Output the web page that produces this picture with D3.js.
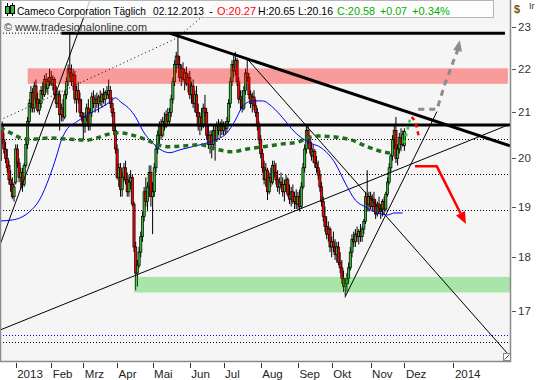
<!DOCTYPE html>
<html>
<head>
<meta charset="utf-8">
<script src="https://cdn.jsdelivr.net/npm/d3@7"></script>
<style>
body { margin: 0; background: #fff; }
svg { display: block; font-family: "Liberation Sans", Arial, sans-serif; }
</style>
</head>
<body>
<div id="chart"></div>
<script>
// daily candles [open, high, low, close], one array per month
const dec2012 = [[19.95,20.85,19.9,20.7],[20.7,20.8,20.3,20.4],[20.4,20.55,20.1,20.2],[20.2,20.35,19.9,20.0],
  [20.0,20.2,19.7,19.8],[19.85,19.95,19.45,19.55],[19.55,19.75,19.3,19.45],[19.45,19.6,19.15,19.2],[19.2,19.5,19.1,19.4]];
const jan = [[19.5,20.3,19.45,20.2],[20.2,20.3,19.8,19.9],[19.9,20.0,19.5,19.6],[19.6,19.8,19.35,19.7],[19.7,19.8,19.3,19.45],
  [19.45,19.9,19.4,19.85],[19.85,20.4,19.8,20.3],[20.3,20.9,20.2,20.8],[20.8,21.3,20.7,21.2],[21.2,21.6,21.0,21.45],
  [21.45,21.55,21.0,21.1],[21.1,21.7,21.0,21.6],[21.6,21.75,21.2,21.3],[21.3,21.45,21.0,21.05],[21.05,21.3,20.95,21.2],
  [21.2,21.6,21.1,21.5],[21.5,21.7,21.3,21.4],[21.4,21.85,21.35,21.75],[21.75,21.9,21.45,21.55],[21.55,21.8,21.4,21.7],
  [21.7,22.0,21.6,21.8]];
const feb = [[21.8,21.95,21.6,21.65],[21.65,21.85,21.5,21.75],[21.75,21.8,21.3,21.4],[21.4,21.6,21.1,21.2],[21.2,21.5,21.1,21.4],
  [21.4,21.5,20.6,20.95],[20.95,21.2,20.8,21.1],[21.1,21.3,20.8,20.9],[20.9,21.5,20.85,21.4],[21.4,21.8,21.3,21.7],
  [21.7,22.1,21.6,22.0],[22.0,22.85,21.8,21.9],[21.9,22.1,21.6,21.7],[21.7,22.0,21.5,21.85],[21.85,21.95,21.2,21.3],
  [21.3,21.6,21.0,21.5],[21.5,21.7,21.2,21.3],[21.3,21.45,20.9,21.0],[21.0,21.3,20.8,20.9]];
const mar = [[20.9,21.0,20.4,20.7],[20.7,21.0,20.55,20.9],[20.9,21.2,20.8,21.1],[21.1,21.3,20.6,20.7],[20.7,21.1,20.6,21.0],
  [21.0,21.45,20.9,21.35],[21.35,21.5,21.1,21.2],[21.2,21.4,21.0,21.3],[21.3,21.45,21.1,21.2],[21.2,21.4,21.0,21.35],
  [21.35,21.5,21.15,21.25],[21.25,21.45,21.1,21.4],[21.4,21.55,21.2,21.3],[21.3,21.5,21.15,21.45],[21.45,21.6,21.3,21.4],
  [21.4,21.75,21.3,21.5],[21.5,21.6,21.1,21.2],[21.2,21.35,20.9,21.0],[21.0,21.1,20.5,20.6],[20.6,20.7,20.1,20.2]];
const apr = [[20.2,20.3,19.55,19.6],[19.6,19.9,19.4,19.8],[19.8,19.9,19.2,19.35],[19.35,19.7,19.2,19.6],[19.6,19.9,19.5,19.8],
  [19.8,19.95,19.45,19.55],[19.55,19.7,19.2,19.3],[19.3,19.65,19.2,19.5],[19.5,19.75,19.35,19.6],[19.6,19.65,19.0,19.05],
  [19.05,19.1,18.1,18.2],[18.2,18.3,17.38,17.7],[17.7,17.95,17.45,17.85],[17.85,18.2,17.8,18.1],[18.1,18.5,18.0,18.4],
  [18.4,18.9,18.3,18.8],[18.8,19.4,18.7,19.3],[19.3,19.6,19.0,19.1],[19.1,19.5,18.9,19.4],[19.4,19.85,19.2,19.7],
  [19.7,19.85,19.0,19.2]];
const may = [[19.2,19.5,18.45,19.3],[19.3,19.9,19.2,19.8],[19.8,20.3,19.7,20.2],[20.2,20.6,20.1,20.5],[20.5,20.8,20.3,20.7],
  [20.7,20.85,20.4,20.5],[20.5,20.9,20.45,20.8],[20.8,21.0,20.6,20.7],[20.7,21.05,20.65,20.95],[20.95,21.1,20.7,20.8],
  [20.8,21.1,20.7,21.0],[21.0,21.4,20.9,21.3],[21.3,21.8,21.2,21.7],[21.7,22.2,21.6,22.1],[22.1,22.4,21.9,22.3],
  [22.3,22.85,22.0,22.1],[22.1,22.3,21.7,21.8],[21.8,22.1,21.6,22.0],[22.0,22.15,21.7,21.75],[21.75,22.0,21.5,21.9],
  [21.9,22.05,21.6,21.65],[21.65,21.9,21.45,21.8]];
const jun = [[21.8,21.95,21.3,21.4],[21.4,21.7,21.2,21.6],[21.6,21.75,21.1,21.2],[21.2,21.5,21.0,21.4],[21.4,21.6,20.9,21.0],
  [21.0,21.2,20.6,20.7],[20.7,21.0,20.5,20.9],[20.9,21.1,20.6,20.7],[20.7,21.2,20.65,21.1],[21.1,21.4,20.9,21.0],
  [21.0,21.1,20.4,20.5],[20.5,20.7,20.2,20.3],[20.3,20.6,20.1,20.5],[20.5,20.6,20.0,20.3],[20.3,20.7,20.2,20.6],
  [20.6,20.7,19.95,20.4],[20.4,20.8,20.35,20.7],[20.7,20.85,20.5,20.6],[20.6,20.8,20.45,20.75],[20.75,20.85,20.5,20.6]];
const jul = [[20.6,20.8,20.5,20.7],[20.7,20.8,20.5,20.65],[20.65,20.9,20.55,20.8],[20.8,21.3,20.75,21.2],[21.2,21.8,21.1,21.7],
  [21.7,22.2,21.6,22.1],[22.1,22.3,21.8,21.95],[21.95,22.4,21.85,22.2],[22.2,22.25,21.6,21.7],[21.7,21.8,21.2,21.3],
  [21.3,21.5,21.05,21.35],[21.35,21.5,21.0,21.1],[21.1,21.6,21.05,21.5],[21.5,22.0,21.4,21.9],[21.9,22.25,21.7,21.8],
  [21.8,21.9,21.3,21.4],[21.4,21.5,21.1,21.2],[21.2,21.45,21.0,21.35],[21.35,21.5,21.05,21.15],[21.15,21.3,20.9,21.0],
  [21.0,21.1,20.6,20.7],[20.7,20.8,20.3,20.4]];
const aug = [[20.4,20.5,20.0,20.1],[20.1,20.2,19.7,19.8],[19.8,19.95,19.45,19.55],[19.55,19.9,19.4,19.75],[19.75,19.8,19.13,19.3],
  [19.3,19.7,19.25,19.6],[19.6,19.8,19.4,19.5],[19.5,19.95,19.45,19.85],[19.85,19.95,19.6,19.7],[19.7,19.9,19.45,19.55],
  [19.55,19.75,19.3,19.4],[19.4,19.6,19.25,19.5],[19.5,19.7,19.35,19.45],[19.45,19.6,19.2,19.3],[19.3,19.55,19.1,19.45],
  [19.45,19.65,19.3,19.55],[19.55,19.6,19.2,19.25],[19.25,19.45,19.05,19.15],[19.15,19.4,19.0,19.3],[19.3,19.45,19.05,19.1],
  [19.1,19.3,18.95,19.2],[19.2,19.35,18.95,19.05]];
const sep = [[19.05,19.3,18.95,19.2],[19.2,19.35,18.9,19.0],[19.0,19.5,18.95,19.4],[19.4,19.9,19.35,19.8],[19.8,20.3,19.7,20.2],
  [20.2,20.72,20.1,20.6],[20.6,20.7,20.3,20.4],[20.4,20.5,20.1,20.2],[20.2,20.35,19.95,20.05],[20.05,20.3,19.9,20.15],
  [20.15,20.2,19.8,19.9],[19.9,20.05,19.7,19.8],[19.8,19.95,19.55,19.65],[19.65,19.75,19.3,19.4],[19.4,19.5,19.0,19.1],
  [19.1,19.2,18.7,18.8],[18.8,19.0,18.5,18.6],[18.6,18.8,18.35,18.45],[18.45,18.7,18.3,18.55],[18.55,18.6,18.1,18.2]];
const oct = [[18.2,18.4,18.0,18.3],[18.3,18.5,18.1,18.2],[18.2,18.35,17.95,18.05],[18.05,18.3,17.9,18.2],[18.2,18.3,17.85,17.9],
  [17.9,18.1,17.7,17.8],[17.8,17.95,17.5,17.6],[17.6,17.75,17.35,17.45],[17.45,17.6,17.28,17.5],[17.5,17.7,17.35,17.6],
  [17.6,17.9,17.5,17.8],[17.8,18.2,17.75,18.1],[18.1,18.45,18.0,18.35],[18.35,18.5,18.2,18.3],[18.3,18.55,18.2,18.45],
  [18.45,18.6,18.3,18.4],[18.4,18.55,18.25,18.5],[18.5,18.65,18.3,18.4],[18.4,18.6,18.3,18.55],[18.55,18.75,18.45,18.7],
  [18.7,19.3,18.65,19.2],[19.2,19.75,18.9,19.05],[19.05,19.3,18.9,19.2]];
const nov = [[19.2,19.3,18.95,19.0],[19.0,19.25,18.9,19.15],[19.15,19.3,18.9,19.0],[19.0,19.15,18.75,18.85],[18.85,19.1,18.8,19.05],
  [19.05,19.2,18.85,18.9],[18.9,19.05,18.75,18.95],[18.95,19.15,18.8,19.1],[19.1,19.2,18.85,18.95],[18.95,19.3,18.9,19.25],
  [19.25,19.6,19.2,19.5],[19.5,19.9,19.45,19.8],[19.8,20.1,19.7,20.05],[20.05,20.5,19.95,20.4],[20.4,20.75,20.2,20.6],
  [20.6,20.9,19.9,20.0],[20.0,20.3,19.85,20.2],[20.2,20.55,20.1,20.45],[20.45,20.65,20.15,20.3],[20.3,20.6,20.25,20.51]];
const dec2013 = [[20.27,20.65,20.16,20.58]];

const months = [dec2012, jan, feb, mar, apr, may, jun, jul, aug, sep, oct, nov, dec2013];
const bars = months.flat().map((d, k) => ({ i: k - dec2012.length, o: d[0], h: d[1], l: d[2], c: d[3] }));

// x axis: bar number of the first trading day of each month
const tickLabels = ["2013", "Feb", "Mrz", "Apr", "Mai", "Jun", "Jul", "Aug", "Sep", "Okt", "Nov", "Dez", "2014"];
const tickBars = [0, 21, 40, 60, 81, 103, 123, 145, 167, 187, 210, 230, 259];
const priceTicks = [17, 18, 19, 20, 21, 22, 23];

// moving averages [bar, price]
const maBlue = [[-9.3,18.71],[-2,18.73],[8,18.89],[14,19.13],[20,19.61],[24,20.03],[27,20.39],[30,20.61],[36,20.79],
  [42,20.94],[50,21.10],[56,21.24],[59,21.33],[62,21.24],[68,21.05],[72,20.83],[75,20.61],[81,20.33],[87,20.16],
  [91,20.12],[97,20.18],[109,20.29],[118,20.39],[125,20.55],[130,20.83],[134,21.12],[140,21.26],[146,21.26],
  [152,21.12],[158,20.88],[165,20.57],[173,20.35],[181,20.22],[189,19.90],[195,19.48],[201,19.13],[207,18.99],
  [214,18.87],[220,18.83],[224,18.87],[229,18.87]];
const maGreen = [[-9.3,20.66],[-3,20.55],[3,20.44],[10,20.41],[20,20.44],[32,20.41],[42,20.39],[48,20.44],[56,20.53],
  [62,20.55],[69,20.50],[78,20.39],[84,20.29],[91,20.25],[101,20.27],[109,20.29],[118,20.20],[128,20.14],[137,20.20],
  [147,20.25],[158,20.31],[167,20.35],[173,20.44],[179,20.48],[189,20.46],[199,20.39],[208,20.25],[217,20.14],[224,20.10]];

// drawn levels and trend lines [bar, price]
const dottedLevels = [20.41, 19.67, 18.92, 16.45];
const blueDottedLevel = 16.58;
const redZone = { from: 7.1, to: 291.3, lo: 21.65, hi: 22.01 };
const greenZone = { from: 70, to: 292.5, lo: 17.34, hi: 17.63 };
const topDotted = [[-9.3, 22.85], [27, 22.85]];
const thickLines = [
  [[27, 22.85], [289.5, 22.85]],
  [[-9.3, 20.72], [292.5, 20.72]],
  [[91, 22.85], [292.5, 20.27]]
];
const thinLines = [
  [[-9.3, 16.66], [292.5, 20.74]],
  [[-9.3, 18.24], [44, 23.67]],
  [[137.5, 22.21], [290.7, 16.26]],
  [[194.8, 17.25], [249.3, 21.02]]
];
const dottedDiag = [[-9.3, 20.83], [95.4, 22.73], [122, 23.67]];
const grayArrow = [[238.2,21.07],[249.3,21.07],[251,21.28],[254,21.65],[256.9,21.95],[259.3,22.21],[261.6,22.44],[262.8,22.68]];
const redArrow = [[236.3,19.83],[249.2,19.83],[266.4,18.65]];
const greenArc = [[229.8,20.33],[231.5,20.57],[233.3,20.85]];
const redArc = [[234.3,20.9],[236.5,20.8],[237.7,20.6],[238.9,20.41]];

const W = 540, H = 380, PW = 510, PH = 361;

const x = d3.scaleLinear().domain([-9.3, 292.5]).range([0, PW]);
const y = d3.scaleLog().domain([16.12, 23.67]).range([PH, 0]);

const svg = d3.select("#chart").append("svg").attr("width", W).attr("height", H);
svg.append("rect").attr("width", W).attr("height", H).attr("fill", "#fff");
svg.append("defs").append("clipPath").attr("id", "clip")
  .append("rect").attr("width", PW).attr("height", PH);
svg.append("rect").attr("width", PW).attr("height", PH).attr("fill", "#f5f5f5");

const plot = svg.append("g").attr("clip-path", "url(#clip)");
const line = d3.line().x(d => x(d[0])).y(d => y(d[1]));

// horizontal dotted levels
plot.selectAll(".lvl").data(dottedLevels).join("line")
  .attr("x1", 0).attr("x2", PW)
  .attr("y1", d => Math.round(y(d)) + 0.5).attr("y2", d => Math.round(y(d)) + 0.5)
  .attr("stroke", "#000").attr("stroke-dasharray", "1,2");
plot.append("line").attr("x1", 0).attr("x2", PW)
  .attr("y1", Math.round(y(blueDottedLevel)) + 0.5).attr("y2", Math.round(y(blueDottedLevel)) + 0.5)
  .attr("stroke", "#0000ff").attr("stroke-dasharray", "1,2");

// candles
const bw = 2.2;
plot.selectAll(".wick").data(bars).join("line")
  .attr("x1", d => x(d.i)).attr("x2", d => x(d.i))
  .attr("y1", d => y(d.h)).attr("y2", d => y(d.l))
  .attr("stroke", "#000").attr("stroke-width", 1);
plot.selectAll(".body").data(bars).join("rect")
  .attr("x", d => x(d.i) - bw / 2)
  .attr("y", d => y(Math.max(d.o, d.c)))
  .attr("width", bw)
  .attr("height", d => Math.max(1, Math.abs(y(d.o) - y(d.c))))
  .attr("fill", d => d.c >= d.o ? "#33bb33" : "#ff0000")
  .attr("stroke", "#000").attr("stroke-width", 0.7);

// zones
[[redZone, "rgba(255,0,0,0.37)"], [greenZone, "rgba(0,192,0,0.31)"]].forEach(([z, col]) => {
  plot.append("rect")
    .attr("x", x(z.from)).attr("width", x(z.to) - x(z.from))
    .attr("y", y(z.hi)).attr("height", y(z.lo) - y(z.hi))
    .attr("fill", col);
});

// trend lines
plot.append("path").datum(dottedDiag).attr("d", line)
  .attr("fill", "none").attr("stroke", "#000").attr("stroke-dasharray", "1,3");
plot.append("path").datum(topDotted).attr("d", line)
  .attr("fill", "none").attr("stroke", "#000").attr("stroke-dasharray", "1,2");
thinLines.forEach(l => plot.append("path").datum(l).attr("d", line)
  .attr("fill", "none").attr("stroke", "#000").attr("stroke-width", 1));
thickLines.forEach(l => plot.append("path").datum(l).attr("d", line)
  .attr("fill", "none").attr("stroke", "#000").attr("stroke-width", 3));

// moving averages
const curve = d3.line().x(d => x(d[0])).y(d => y(d[1])).curve(d3.curveMonotoneX);
plot.append("path").datum(maBlue).attr("d", curve)
  .attr("fill", "none").attr("stroke", "#0000ee").attr("stroke-width", 1);
plot.append("path").datum(maGreen).attr("d", curve)
  .attr("fill", "none").attr("stroke", "#1e6e1e").attr("stroke-width", 3.5).attr("stroke-dasharray", "5,4");

// forecast arrows
function arrow(pts, col, w, dash, len, half) {
  const p = pts.map(d => [x(d[0]), y(d[1])]);
  const tip = p[p.length - 1], prev = p[p.length - 2];
  const dx = tip[0] - prev[0], dy = tip[1] - prev[1], n = Math.hypot(dx, dy);
  const ux = dx / n, uy = dy / n;
  const bx = tip[0] - ux * len, by = tip[1] - uy * len;
  const shaft = p.slice(0, -1).concat([[bx, by]]);
  plot.append("path").attr("d", d3.line()(shaft))
    .attr("fill", "none").attr("stroke", col).attr("stroke-width", w)
    .attr("stroke-dasharray", dash);
  plot.append("path")
    .attr("d", d3.line()([tip, [bx - uy * half, by + ux * half], [bx + uy * half, by - ux * half]]) + "Z")
    .attr("fill", col);
}
arrow(grayArrow, "#8c8c8c", 3, "6,5", 11, 4.5);
arrow(redArrow, "#ff0000", 2.5, null, 12, 5);
plot.append("path").datum(greenArc).attr("d", curve)
  .attr("fill", "none").attr("stroke", "#33cc33").attr("stroke-width", 2.5).attr("stroke-dasharray", "3,4");
plot.append("path").datum(redArc).attr("d", line)
  .attr("fill", "none").attr("stroke", "#ff0000").attr("stroke-width", 2.5).attr("stroke-dasharray", "4,4");

// frame
svg.append("path").attr("d", `M0.5,0V${PH + 0.5}H${PW + 0.5}V0`)
  .attr("fill", "none").attr("stroke", "#8a8a8a").attr("stroke-width", 1.5);

// price axis
const yAxis = svg.append("g");
yAxis.selectAll("line").data(priceTicks).join("line")
  .attr("x1", PW + 2).attr("x2", PW + 6)
  .attr("y1", d => Math.round(y(d)) + 0.5).attr("y2", d => Math.round(y(d)) + 0.5)
  .attr("stroke", "#555");
yAxis.selectAll("text").data(priceTicks).join("text")
  .attr("x", PW + 8).attr("y", d => y(d) + 4)
  .attr("font-size", 11.5).attr("fill", "#333").text(d => d);
svg.append("text").attr("x", 514).attr("y", 13).attr("font-size", 11)
  .attr("font-weight", "bold").attr("fill", "#7a5200").text("$");

// date axis
const xAxis = svg.append("g");
xAxis.selectAll("line").data(tickBars).join("line")
  .attr("x1", d => Math.round(x(d)) + 0.5).attr("x2", d => Math.round(x(d)) + 0.5)
  .attr("y1", PH + 2).attr("y2", PH + 7).attr("stroke", "#333");
xAxis.selectAll("text").data(tickBars).join("text")
  .attr("x", d => x(d) + 1.5).attr("y", 378)
  .attr("font-size", 11.5).attr("fill", "#222").text((d, k) => tickLabels[k]);

// resize grip
svg.append("rect").attr("x", 503.5).attr("y", 353.5).attr("width", 7).attr("height", 7)
  .attr("fill", "#fff").attr("stroke", "#888");
svg.append("line").attr("x1", 504.5).attr("y1", 359.5).attr("x2", 509.5).attr("y2", 354.5).attr("stroke", "#555");

// header box
svg.append("rect").attr("x", 1.5).attr("y", 0.5).attr("width", 492).attr("height", 17)
  .attr("fill", "#fff").attr("fill-opacity", 0.75).attr("stroke", "#b5b5b5");
const icon = svg.append("g");
icon.append("line").attr("x1", 7.5).attr("x2", 7.5).attr("y1", 3).attr("y2", 16).attr("stroke", "#000");
icon.append("rect").attr("x", 5.5).attr("y", 6.5).attr("width", 4).attr("height", 7).attr("fill", "#33bb33").attr("stroke", "#000");
icon.append("line").attr("x1", 12.5).attr("x2", 12.5).attr("y1", 3).attr("y2", 16).attr("stroke", "#000");
icon.append("rect").attr("x", 10.5).attr("y", 5.5).attr("width", 4).attr("height", 8).attr("fill", "#33bb33").attr("stroke", "#000");

const header = [
  ["Cameco Corporation Täglich", 17, 129, "#000"],
  ["02.12.2013", 153, 51, "#000"],
  ["-", 209, 4, "#000"],
  ["O:20.27", 217, 39, "#ff0000"],
  ["H:20.65", 258, 37, "#000"],
  ["L:20.16", 298, 35, "#000"],
  ["C:20.58", 337, 38, "#00b000"],
  ["+0.07", 380, 27, "#00b000"],
  ["+0.34%", 412, 38, "#00b000"]
];
svg.selectAll(".hdr").data(header).join("text")
  .attr("x", d => d[1]).attr("y", 14.5).attr("font-size", 11)
  .attr("textLength", d => d[2]).attr("lengthAdjust", "spacingAndGlyphs")
  .attr("fill", d => d[3]).text(d => d[0]);
svg.append("text").attr("x", 4).attr("y", 31).attr("font-size", 11.5)
  .attr("textLength", 143).attr("lengthAdjust", "spacingAndGlyphs")
  .attr("fill", "#333").text("© www.tradesignalonline.com");
svg.append("text").attr("x", 529).attr("y", 9).attr("font-size", 9).attr("fill", "#333").text("Ir");
</script>
</body>
</html>
